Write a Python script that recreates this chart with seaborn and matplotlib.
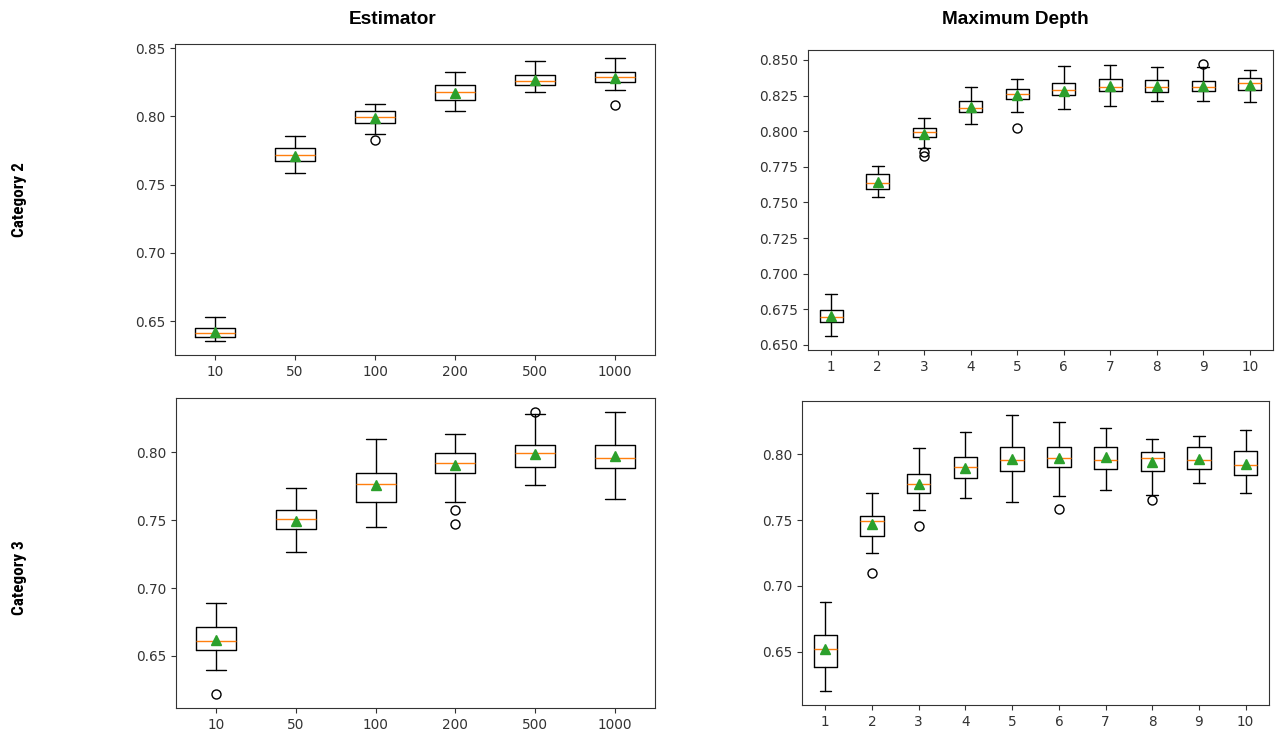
import matplotlib
matplotlib.use("Agg")
import matplotlib.pyplot as plt
import matplotlib.ticker as mticker
from matplotlib import font_manager
import seaborn as sns

# ---------------- data ----------------
est_labels = ["10", "50", "100", "200", "500", "1000"]
depth_labels = ["1", "2", "3", "4", "5", "6", "7", "8", "9", "10"]

# Category 2 / Estimator
c2e_whislo = [0.6356, 0.7589, 0.7872, 0.8041, 0.8180, 0.8197]
c2e_q1     = [0.6385, 0.7675, 0.7955, 0.8117, 0.8229, 0.8251]
c2e_med    = [0.6417, 0.7716, 0.7999, 0.8180, 0.8261, 0.8290]
c2e_q3     = [0.6449, 0.7770, 0.8041, 0.8229, 0.8302, 0.8324]
c2e_whishi = [0.6534, 0.7853, 0.8092, 0.8324, 0.8407, 0.8427]
c2e_mean   = [0.6424, 0.7710, 0.7987, 0.8175, 0.8268, 0.8285]
c2e_fliers = [[], [], [0.7828], [], [], [0.8082]]

# Category 2 / Maximum Depth
c2d_whislo = [0.6560, 0.7537, 0.7884, 0.8049, 0.8137, 0.8156, 0.8177, 0.8214, 0.8214, 0.8205]
c2d_q1     = [0.6663, 0.7593, 0.7960, 0.8135, 0.8223, 0.8253, 0.8281, 0.8272, 0.8281, 0.8291]
c2d_med    = [0.6695, 0.7633, 0.7993, 0.8163, 0.8263, 0.8291, 0.8312, 0.8312, 0.8312, 0.8340]
c2d_q3     = [0.6742, 0.7700, 0.8019, 0.8212, 0.8298, 0.8340, 0.8367, 0.8358, 0.8349, 0.8370]
c2d_whishi = [0.6858, 0.7758, 0.8095, 0.8309, 0.8367, 0.8456, 0.8465, 0.8447, 0.8447, 0.8426]
c2d_mean   = [0.6702, 0.7642, 0.7979, 0.8172, 0.8251, 0.8281, 0.8319, 0.8319, 0.8319, 0.8323]
c2d_fliers = [[], [], [0.7851, 0.7823], [], [0.8019], [], [], [], [0.8474], []]

# Category 3 / Estimator
c3e_whislo = [0.6397, 0.7266, 0.7448, 0.7634, 0.7759, 0.7656]
c3e_q1     = [0.6544, 0.7435, 0.7634, 0.7845, 0.7894, 0.7885]
c3e_med    = [0.6608, 0.7511, 0.7769, 0.7919, 0.7993, 0.7961]
c3e_q3     = [0.6711, 0.7573, 0.7845, 0.7993, 0.8054, 0.8054]
c3e_whishi = [0.6893, 0.7737, 0.8096, 0.8137, 0.8285, 0.8295]
c3e_mean   = [0.6618, 0.7497, 0.7759, 0.7904, 0.7988, 0.7973]
c3e_fliers = [[0.6220], [], [], [0.7573, 0.7475], [0.8297], []]

# Category 3 / Maximum Depth
c3d_whislo = [0.6203, 0.7250, 0.7577, 0.7663, 0.7640, 0.7683, 0.7728, 0.7693, 0.7779, 0.7703]
c3d_q1     = [0.6384, 0.7376, 0.7703, 0.7819, 0.7874, 0.7904, 0.7884, 0.7874, 0.7884, 0.7841]
c3d_med    = [0.6523, 0.7492, 0.7776, 0.7904, 0.7957, 0.7970, 0.7957, 0.7970, 0.7957, 0.7914]
c3d_q3     = [0.6628, 0.7534, 0.7851, 0.7980, 0.8053, 0.8053, 0.8053, 0.8013, 0.8053, 0.8023]
c3d_whishi = [0.6882, 0.7703, 0.8043, 0.8169, 0.8297, 0.8242, 0.8199, 0.8116, 0.8138, 0.8181]
c3d_mean   = [0.6520, 0.7471, 0.7776, 0.7894, 0.7960, 0.7970, 0.7977, 0.7942, 0.7965, 0.7924]
c3d_fliers = [[], [0.7101], [0.7451], [], [], [0.7580], [], [0.7650], [], []]

col_titles = ["Estimator", "Maximum Depth"]
row_titles = ["Category 2", "Category 3"]

# ---------------- styling ----------------
sns.set_theme(style="ticks")
plt.rcParams["font.family"] = ["DejaVu Sans"]
plt.rcParams["axes.edgecolor"] = "#333333"
plt.rcParams["xtick.color"] = "#333333"
plt.rcParams["ytick.color"] = "#333333"
plt.rcParams["xtick.labelcolor"] = "#333333"
plt.rcParams["ytick.labelcolor"] = "#333333"
plt.rcParams["text.color"] = "black"

# pick a condensed bold face for the row labels if one is installed
available = {f.name for f in font_manager.fontManager.ttflist}
narrow_name = None
for cand in ["Liberation Sans Narrow", "Arial Narrow", "DejaVu Sans Condensed",
             "Roboto Condensed", "Open Sans Condensed"]:
    if cand in available:
        narrow_name = cand
        break


def make_stats(labels, wl, q1, med, q3, wh, mean, fl):
    out = []
    for i, lab in enumerate(labels):
        out.append(dict(label=lab, whislo=wl[i], q1=q1[i], med=med[i],
                        q3=q3[i], whishi=wh[i], mean=mean[i], fliers=fl[i]))
    return out


panels = [
    (make_stats(est_labels, c2e_whislo, c2e_q1, c2e_med, c2e_q3, c2e_whishi, c2e_mean, c2e_fliers),
     [175, 44, 655, 355], 0.05),
    (make_stats(depth_labels, c2d_whislo, c2d_q1, c2d_med, c2d_q3, c2d_whishi, c2d_mean, c2d_fliers),
     [808, 50, 1273, 350], 0.025),
    (make_stats(est_labels, c3e_whislo, c3e_q1, c3e_med, c3e_q3, c3e_whishi, c3e_mean, c3e_fliers),
     [176, 398, 655, 708], 0.05),
    (make_stats(depth_labels, c3d_whislo, c3d_q1, c3d_med, c3d_q3, c3d_whishi, c3d_mean, c3d_fliers),
     [802, 401, 1269, 705], 0.05),
]

W, H = 1276, 736
fig = plt.figure(figsize=(W / 100, H / 100), dpi=100)
fig.patch.set_facecolor("white")

for stats, (x0, y0, x1, y1), step in panels:
    ax = fig.add_axes([x0 / W, 1 - y1 / H, (x1 - x0) / W, (y1 - y0) / H])
    ax.bxp(stats, showmeans=True, widths=0.5,
           boxprops=dict(color="black", linewidth=1.0),
           whiskerprops=dict(color="black", linewidth=1.0),
           capprops=dict(color="black", linewidth=1.0),
           medianprops=dict(color="#ff7f0e", linewidth=1.0),
           meanprops=dict(marker="^", markerfacecolor="#2ca02c",
                          markeredgecolor="#2ca02c", markersize=6.5),
           flierprops=dict(marker="o", markerfacecolor="none",
                           markeredgecolor="black", markersize=6.5,
                           markeredgewidth=1.0))
    ax.set_xlim(0.5, len(stats) + 0.5)
    ax.yaxis.set_major_locator(mticker.MultipleLocator(step))
    ax.tick_params(labelsize=9.8, length=3.5, width=0.8)
    for s in ax.spines.values():
        s.set_linewidth(0.8)
        s.set_visible(True)
    ax.set_facecolor("white")
    ax.grid(False)

title_family = ["Liberation Sans", "DejaVu Sans"]
fig.text(393 / W, 1 - 20 / H, col_titles[0], ha="center", va="center",
         fontsize=13.7, fontweight="bold", family=title_family, color="black")
fig.text(1015 / W, 1 - 20 / H, col_titles[1], ha="center", va="center",
         fontsize=13.7, fontweight="bold", family=title_family, color="black")

if narrow_name is not None:
    row_family = [narrow_name, "Liberation Sans", "DejaVu Sans"]
    row_size = 12.3
else:
    row_family = ["Liberation Sans", "DejaVu Sans"]
    row_size = 11.0
fig.text(20 / W, 1 - 200 / H, row_titles[0], ha="center", va="center",
         rotation=90, fontsize=row_size, fontweight="bold", family=row_family,
         color="black")
fig.text(20 / W, 1 - 578 / H, row_titles[1], ha="center", va="center",
         rotation=90, fontsize=row_size, fontweight="bold", family=row_family,
         color="black")

fig.savefig("out.png", dpi=100, facecolor="white")
